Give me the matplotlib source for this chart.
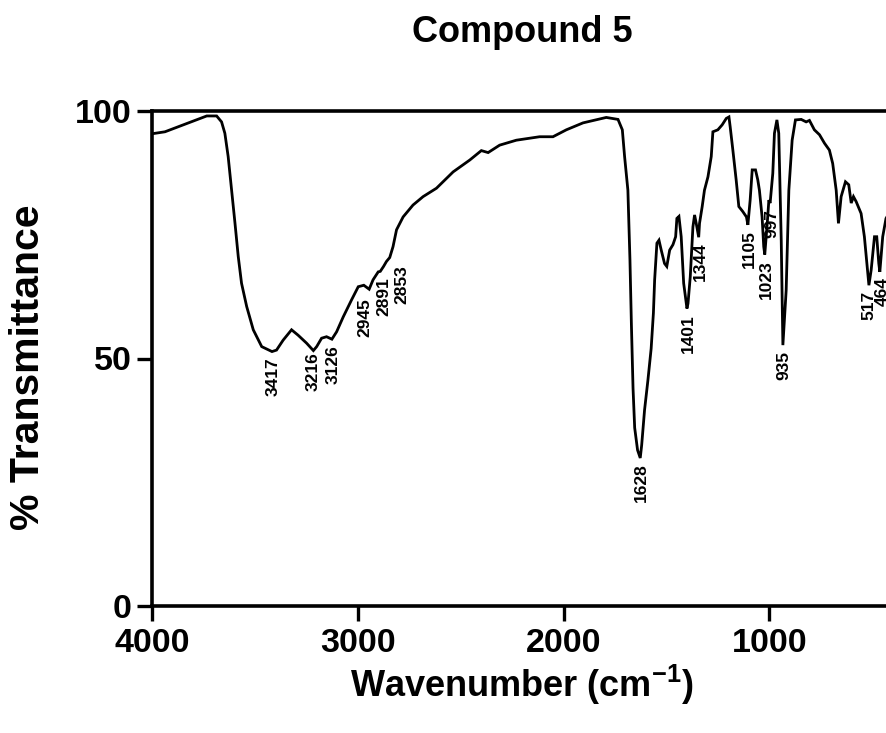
import matplotlib
matplotlib.use("Agg")
import matplotlib.pyplot as plt
import numpy as np

plt.rcParams['font.family'] = ['Liberation Sans', 'DejaVu Sans']
plt.rcParams['mathtext.fontset'] = 'custom'
plt.rcParams['mathtext.rm'] = 'Liberation Sans:bold'
plt.rcParams['mathtext.bf'] = 'Liberation Sans:bold'

# IR spectrum of compound 5 (wavenumber in cm^-1, % transmittance)
wavenumber = [
    4000, 3937, 3848, 3734, 3686, 3662, 3646, 3630, 3613, 3597, 3581, 3565,
    3540, 3508, 3467, 3417, 3395, 3363, 3322, 3290, 3249, 3216, 3200, 3176,
    3152, 3126, 3103, 3071, 3031, 2998, 2971, 2945, 2926, 2901, 2891, 2875,
    2861, 2853, 2845, 2829, 2812, 2780, 2732, 2683, 2618, 2537, 2456, 2400,
    2367, 2311, 2230, 2117, 2052, 1987, 1906, 1793, 1736, 1715, 1704, 1688,
    1678, 1671, 1663, 1655, 1641, 1628, 1621, 1607, 1591, 1575, 1564, 1558,
    1547, 1537, 1526, 1510, 1499, 1485, 1469, 1456, 1450, 1440, 1429, 1417,
    1401, 1396, 1385, 1372, 1364, 1356, 1344, 1340, 1327, 1316, 1299, 1283,
    1275, 1251, 1230, 1210, 1197, 1191, 1178, 1162, 1149, 1130, 1112, 1105,
    1094, 1084, 1068, 1057, 1049, 1036, 1028, 1023, 1011, 1003, 997, 984,
    976, 964, 955, 943, 935, 919, 906, 890, 874, 846, 822, 806, 782, 757,
    733, 709, 693, 676, 665, 652, 631, 615, 603, 592, 579, 555, 539, 527,
    517, 506, 490, 479, 469, 464, 450, 434, 410,
]
transmittance = [
    95.4, 95.8, 97.2, 99.0, 99.0, 97.8, 95.5, 90.8, 84.0, 77.4, 70.6, 65.2,
    60.5, 55.8, 52.4, 51.4, 51.7, 53.7, 55.8, 54.7, 53.1, 51.6, 52.4, 54.1,
    54.4, 53.9, 55.4, 58.4, 61.8, 64.5, 64.8, 64.0, 65.9, 67.5, 67.6, 68.6,
    69.6, 70.0, 70.4, 72.6, 76.0, 78.6, 81.0, 82.7, 84.4, 87.7, 90.1, 92.0,
    91.6, 93.1, 94.1, 94.8, 94.8, 96.2, 97.6, 98.7, 98.3, 96.2, 90.8, 84.0,
    70.0, 57.0, 44.0, 36.0, 31.5, 29.9, 32.5, 39.6, 45.5, 52.0, 59.2, 65.9,
    73.3, 73.9, 71.9, 69.2, 68.6, 71.9, 73.0, 74.6, 78.3, 78.7, 74.6, 65.2,
    60.1, 61.1, 66.5, 76.6, 79.0, 77.3, 74.5, 77.3, 80.7, 84.0, 86.7, 90.8,
    95.8, 96.2, 97.2, 98.5, 98.8, 96.8, 92.1, 86.1, 80.7, 79.7, 78.6, 77.0,
    82.0, 88.1, 88.1, 86.1, 84.0, 78.6, 72.6, 71.0, 77.3, 82.0, 81.4, 87.4,
    95.5, 98.2, 95.5, 73.9, 52.7, 63.8, 84.0, 94.1, 98.2, 98.3, 97.8, 98.1,
    96.2, 95.2, 93.5, 92.1, 89.4, 84.0, 77.3, 82.7, 85.7, 85.1, 81.4, 82.7,
    81.7, 79.3, 74.6, 69.2, 64.8, 67.9, 74.6, 74.6, 69.2, 67.5, 74.6, 78.3,
    80.0,
]

# Annotated absorption bands
peak_labels = [3417, 3216, 3126, 2945, 2891, 2853, 1628, 1401, 1344,
               1105, 1023, 997, 935, 517, 464]

x_ticks = [4000, 3000, 2000, 1000]
y_ticks = [0, 50, 100]

W, H = 887, 733
fig = plt.figure(figsize=(W / 100, H / 100), dpi=100)
ax = fig.add_axes([152 / W, 127 / H, 741 / W, 495 / H])

ax.plot(wavenumber, transmittance, color='black', lw=2.0, solid_joinstyle='miter')
ax.set_xlim(4000, 400)
ax.set_ylim(0, 100)

ax.set_xticks(x_ticks)
ax.set_yticks(y_ticks)
ax.tick_params(axis='both', direction='out', length=11, width=2.4,
               labelsize=24.5, color='black')
ax.tick_params(axis='x', pad=5)
ax.tick_params(axis='y', pad=3.5)
for lab in ax.get_xticklabels() + ax.get_yticklabels():
    lab.set_fontweight('bold')

for side in ('left', 'bottom', 'top'):
    ax.spines[side].set_linewidth(2.6)
ax.spines['right'].set_visible(False)

# Peak annotations, rotated and hung just below each band minimum;
# crowded labels are nudged sideways (points)
wn_arr = np.array(wavenumber)
tr_arr = np.array(transmittance)
label_shift = {2945: -3.0, 2891: 2.5, 2853: 10.0, 3216: 0.0, 517: 0.0, 464: 2.0}
label_drop = {2945: -6.5, 3216: -1.5}
for wn in peak_labels:
    t = tr_arr[np.argmin(np.abs(wn_arr - wn))]
    dx = label_shift.get(wn, 1.0)
    dy = label_drop.get(wn, -4.0)
    ax.annotate(str(wn), xy=(wn, t), xytext=(dx, dy), textcoords='offset points',
                rotation=90, ha='center', va='top', fontsize=12.5,
                fontweight='bold', annotation_clip=False)

fig.text(522 / W, 1 - 33 / H, 'Compound 5', ha='center', va='center',
         fontsize=26, fontweight='bold')
fig.text(28 / W, 1 - 367 / H, '% Transmittance', ha='center', va='center',
         rotation=90, fontsize=29.5, fontweight='bold')
fig.text(522 / W, 1 - 685 / H, r'Wavenumber (cm$^{-1}$)', ha='center',
         va='center', fontsize=26, fontweight='bold')

fig.savefig('out.png', dpi=100)
